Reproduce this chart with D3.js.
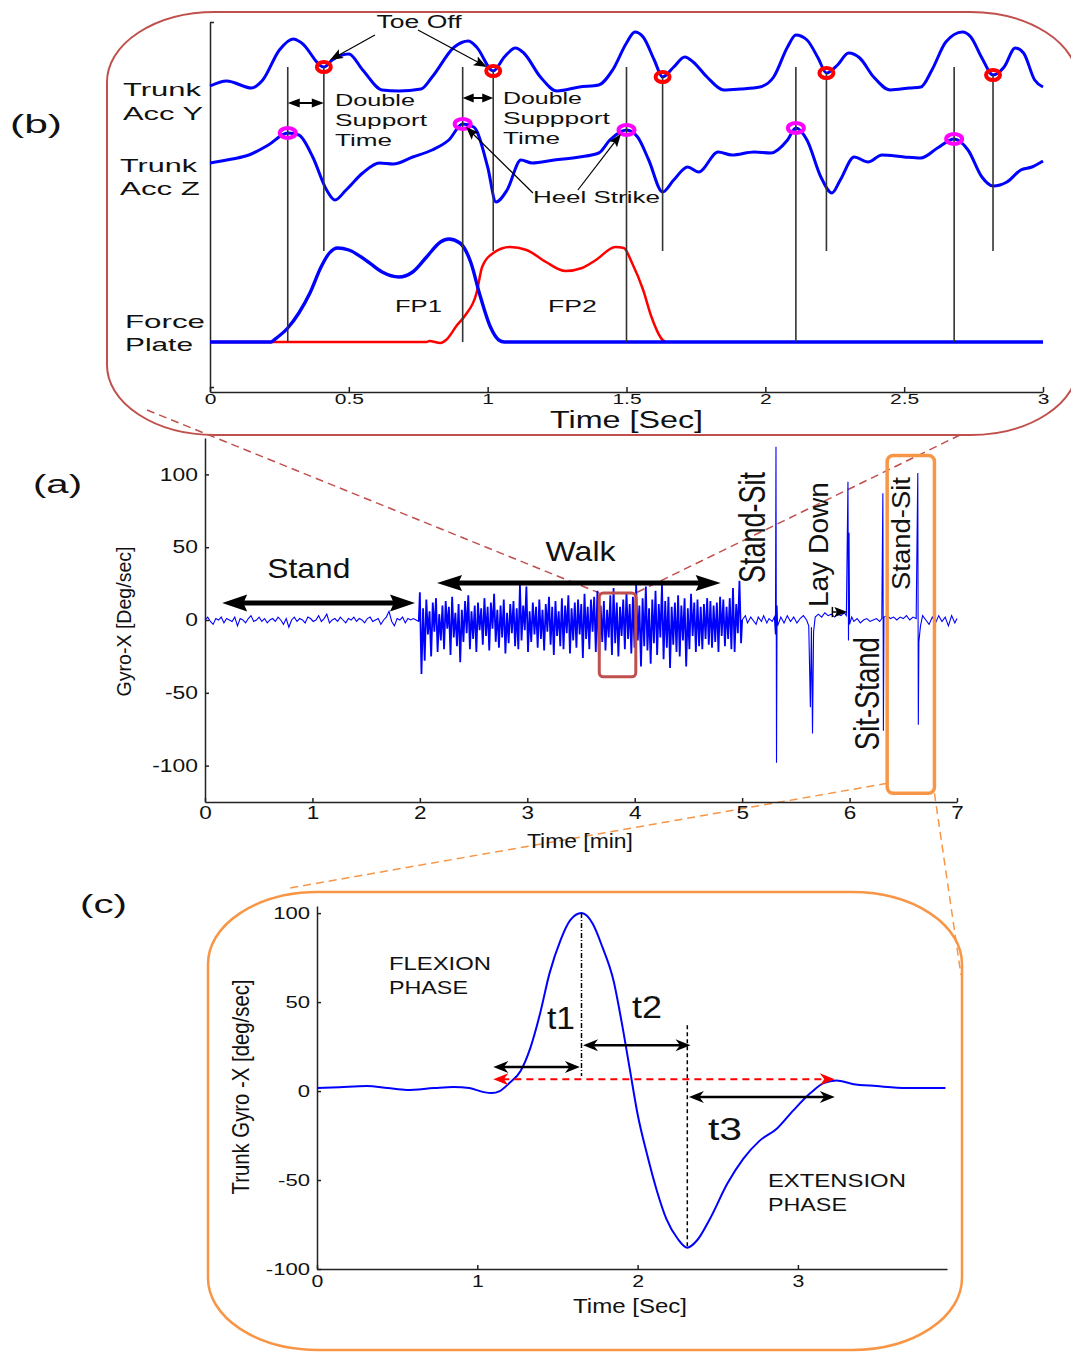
<!DOCTYPE html>
<html lang="en">
<head>
<meta charset="utf-8">
<script src="https://cdnjs.cloudflare.com/ajax/libs/d3/7.8.5/d3.min.js"></script>
<style>
  body { margin: 0; background: #fff; }
  svg { display: block; font-family: 'Liberation Sans', Arial, Helvetica, sans-serif; }
</style>
</head>
<body>
<svg id="fig" width="1071" height="1353"></svg>
<script>
// ---------- panel (b): gait, time [sec], traces in arbitrary units (offset per trace) ----------
const accYTime = [0,0.06,0.15,0.19,0.25,0.30,0.33,0.41,0.44,0.50,0.55,0.62,0.68,0.76,0.80,0.88,0.93,0.96,1.02,1.06,1.10,1.13,1.19,1.25,1.33,1.40,1.45,1.50,1.53,1.56,1.60,1.63,1.67,1.71,1.74,1.79,1.85,1.91,1.98,2.03,2.08,2.11,2.15,2.19,2.22,2.26,2.30,2.34,2.39,2.45,2.52,2.56,2.60,2.65,2.71,2.74,2.78,2.82,2.86,2.90,2.93,2.97,3.00]
const accYVal = [5.12,5.22,5.08,5.24,5.84,6.06,5.98,5.50,5.64,5.76,5.44,5.04,5.02,5.06,5.30,5.90,6.02,5.90,5.42,5.70,5.88,5.78,5.30,5.02,5.10,5.14,5.44,5.98,6.20,6.10,5.64,5.30,5.50,5.70,5.60,5.30,5.04,5.06,5.10,5.30,5.90,6.14,6.04,5.68,5.38,5.54,5.78,5.68,5.30,5.04,5.08,5.10,5.44,6.00,6.20,6.10,5.68,5.34,5.50,5.88,5.78,5.24,5.10]
const accZTime = [0,0.08,0.14,0.21,0.28,0.32,0.37,0.42,0.45,0.49,0.55,0.61,0.66,0.73,0.80,0.86,0.91,0.95,1.00,1.03,1.07,1.12,1.16,1.24,1.33,1.40,1.44,1.50,1.54,1.58,1.63,1.67,1.72,1.76,1.83,1.88,1.96,2.02,2.08,2.11,2.15,2.20,2.24,2.27,2.32,2.37,2.42,2.50,2.56,2.62,2.68,2.73,2.78,2.82,2.87,2.92,2.96,3.00]
const accZVal = [3.58,3.66,3.74,3.94,4.18,4.14,3.70,3.04,2.84,3.04,3.38,3.58,3.56,3.70,3.84,4.04,4.36,4.30,3.50,2.80,3.04,3.64,3.58,3.64,3.70,3.78,4.04,4.24,4.10,3.64,3.00,3.24,3.50,3.40,3.80,3.74,3.80,3.78,4.04,4.28,4.04,3.30,2.98,3.24,3.70,3.60,3.74,3.70,3.68,3.88,4.06,3.84,3.30,3.12,3.20,3.44,3.50,3.62]
const fp1Time = [0,0.22,0.23,0.28,0.32,0.36,0.40,0.43,0.46,0.50,0.57,0.62,0.68,0.73,0.78,0.83,0.86,0.90,0.94,0.97,1.01,1.04,1.06,3.00]
const fp1Val = [0,0,0.04,0.28,0.58,0.98,1.50,1.78,1.88,1.84,1.60,1.40,1.30,1.40,1.70,2.00,2.06,1.98,1.58,0.98,0.30,0.04,0,0]
const fp2Time = [0,0.78,0.79,0.83,0.85,0.89,0.92,0.96,0.98,1.02,1.08,1.14,1.21,1.28,1.34,1.39,1.46,1.49,1.52,1.56,1.59,1.63,1.64]
const fp2Val = [0,0,0.02,-0.02,0.04,0.34,0.54,0.98,1.50,1.78,1.90,1.84,1.60,1.42,1.48,1.64,1.90,1.88,1.58,1.04,0.50,0.04,0]
const toeOffTime = [0.41, 1.02, 1.63, 2.22, 2.82]
const toeOffVal = [5.50, 5.42, 5.30, 5.38, 5.34]
const heelTime = [0.28, 0.91, 1.50, 2.11, 2.68]
const heelVal = [4.18, 4.36, 4.24, 4.28, 4.06]
const gaitTicks = [0, 0.5, 1, 1.5, 2, 2.5, 3]

// ---------- panel (a): whole protocol, time [min], gyro-X [deg/sec] ----------
const standVal = [0,2,-1,-3,1,0,2,-2,1,0,-1,2,-4,1,0,-2,1,3,-1,0,2,-1,1,-2,0,1,-1,2,0,-3,1,-5,0,2,-1,1,0,-2,2,1,-1,0,3,-1,1,4,-2,0,1,-1,2,0,-2,1,0,2,-1,1,0,-2,1,2,-1,0,1,-3,0,2,6,-1,-4,1,0,2,-2,1,0,1,0,-1]
// walking, successive peaks 2.0 - 5.0 min
const walkVal = [
    19,-37,8,-28,14,-10,6,-25,12,-8,15,-22,4,-14,10,-20,13,-6,9,-24,
    16,-12,5,-18,11,-29,7,-15,13,-9,17,-20,6,-13,10,-22,12,-7,8,-17,
    15,-11,9,-21,12,-6,18,-15,7,-19,10,-12,14,-23,5,-16,11,-9,13,-18,
    8,-20,24,-14,10,-7,23,-22,6,-15,12,-10,9,-19,14,-13,7,-21,11,-8,
    16,-17,9,-24,13,-11,6,-18,15,-20,10,-9,17,-23,8,-14,12,-19,14,-10,
    11,-26,18,-13,9,-20,14,-8,16,-22,20,-28,10,-15,13,-21,7,-12,17,-24,
    22,-16,12,-25,9,-11,14,-20,19,-13,11,-23,16,-19,24,-14,10,-32,15,-18,
    23,-21,8,-30,14,-16,20,-24,11,-12,24,-27,13,-19,16,-33,9,-17,12,-22,
    17,-25,10,-14,15,-32,8,-20,18,-11,12,-22,14,-18,9,-20,11,-13,15,-17,
    13,-19,10,-15,12,-22,16,-11,14,-18,9,-13,15,-20,22,-22,11,-9,27,-16
]
const postTime = [5.00,5.03,5.05,5.08,5.10,5.13,5.15,5.18,5.20,5.23,5.25,5.28,5.30,5.31,5.315,5.32,5.325,5.33,5.36,5.39,5.42,5.45,5.48,5.51,5.54,5.57,5.60,5.62,5.635,5.645,5.655,5.665,5.68,5.71,5.74,5.77,5.80,5.83,5.86,5.89,5.92,5.95,5.97,5.985,5.99,5.995,6.00,6.02,6.04,6.07,6.10,6.13,6.16,6.19,6.22,6.25,6.28,6.30,6.31,6.315,6.32,6.35,6.38,6.41,6.44,6.47,6.50,6.53,6.56,6.59,6.62,6.635,6.64,6.645,6.66,6.68,6.71,6.74,6.77,6.80,6.83,6.86,6.89,6.92,6.95,6.98,7.00]
const postVal = [0,3,-2,2,0,-3,2,-1,3,-2,1,-1,2,-10,119,-98,10,-4,2,-2,3,-1,2,-2,1,3,0,-4,-60,-5,-78,-8,2,4,2,5,3,4,2,4,3,5,3,95,-14,60,-3,2,-1,1,-2,0,1,-1,0,1,-1,1,87,-76,2,3,1,2,0,2,1,3,0,2,1,101,-72,-15,-4,3,0,-3,2,-2,3,-1,2,-4,3,-2,1]
const minTicks = [0, 1, 2, 3, 4, 5, 6, 7]
const gyroTicks = [-100, -50, 0, 50, 100]

// ---------- panel (c): one stand-sit transition, time [sec], gyro-X [deg/sec] ----------
const sitTime = [0,0.14,0.31,0.44,0.56,0.73,0.85,0.95,1.04,1.09,1.14,1.20,1.27,1.33,1.39,1.45,1.52,1.58,1.65,1.72,1.78,1.85,1.90,1.95,2.00,2.06,2.12,2.18,2.25,2.31,2.37,2.45,2.56,2.66,2.76,2.87,2.97,3.08,3.16,3.24,3.34,3.49,3.68,3.92]
const sitVal = [1.7,2.2,2.8,1.7,0.6,1.7,2.3,1.7,-0.6,-1.1,0,4.5,11.3,24,43,66,85,96,100,94,81,62,39,13,-13,-36,-56,-72,-83,-88,-84,-72,-52,-38,-28,-21,-11,-1,4.5,6,4,2.8,1.7,1.7]
const secTicks = [0, 1, 2, 3]
const sitGyroTicks = [-100, -50, 0, 50, 100]

const zip = (a, b) => a.map((t, i) => [t, b[i]])
const INK = '#111'
const plain = d => String(d)   // hyphen minus, no trailing .0

const svg = d3.select('#fig')
svg.append('rect').attr('width', 1071).attr('height', 1353).attr('fill', '#fff')

function txt(g, s, x, y, size, w, anchor) {
    const t = g.append('text').attr('x', x).attr('y', y).attr('font-size', size)
        .attr('text-anchor', anchor || 'start').attr('fill', INK).text(s)
    if (w) t.attr('textLength', w).attr('lengthAdjust', 'spacingAndGlyphs')
    return t
}
function vtxt(g, s, x, y, size, len, sx, anchor) {
    return g.append('text')
        .attr('transform', `translate(${x},${y}) scale(${sx},1) rotate(-90)`)
        .attr('font-size', size).attr('text-anchor', anchor || 'start').attr('fill', INK)
        .attr('textLength', len).attr('lengthAdjust', 'spacingAndGlyphs').text(s)
}
function widen(sel, k) {
    sel.each(function () {
        const w = this.getComputedTextLength()
        d3.select(this).attr('textLength', w * k).attr('lengthAdjust', 'spacingAndGlyphs')
    })
}
function styleAxis(g, size, k) {
    g.attr('font-family', null).attr('font-size', size)
    g.select('.domain').attr('stroke', '#222').attr('stroke-width', 1.5)
    g.selectAll('.tick line').attr('stroke', '#222').attr('stroke-width', 1.5)
    g.selectAll('.tick text').attr('fill', INK)
    widen(g.selectAll('.tick text'), k)
}
// arrow with filled (optionally barbed) heads
function arrow(g, p1, p2, o) {
    const [x1, y1] = p1, [x2, y2] = p2
    const L = Math.hypot(x2 - x1, y2 - y1), ux = (x2 - x1) / L, uy = (y2 - y1) / L
    const color = o.color || '#000', cut = o.head * 0.6, notch = o.notch || 1
    const a = o.both ? [x1 + ux * cut, y1 + uy * cut] : [x1, y1]
    const b = [x2 - ux * cut, y2 - uy * cut]
    g.append('line').attr('x1', a[0]).attr('y1', a[1]).attr('x2', b[0]).attr('y2', b[1])
        .attr('stroke', color).attr('stroke-width', o.w).attr('stroke-dasharray', o.dash || null)
    const head = (tx, ty, dx, dy) => {
        const bx = tx - dx * o.head, by = ty - dy * o.head
        const nx = tx - dx * o.head * notch, ny = ty - dy * o.head * notch
        const pts = [[tx, ty], [bx - dy * o.hw, by + dx * o.hw], [nx, ny], [bx + dy * o.hw, by - dx * o.hw]]
        g.append('polygon').attr('points', pts.map(p => p.join(',')).join(' ')).attr('fill', color)
    }
    head(x2, y2, ux, uy)
    if (o.both) head(x1, y1, -ux, -uy)
}

// ================= scales =================
const xB = d3.scaleLinear().domain([0, 3]).range([210, 1043])
const yB = d3.scaleLinear().domain([-1, 6.4]).range([392, 22])
const xA = d3.scaleLinear().domain([0, 7]).range([205, 957])
const yA = d3.scaleLinear().domain([-125, 125]).range([802, 438])
const xC = d3.scaleLinear().domain([0, 3.93]).range([317, 947])
const yC = d3.scaleLinear().domain([-100, 104]).range([1269, 906])

// zoom windows marked in panel (a)
const walkWin = { t0: 3.67, t1: 4.01, v0: -39, v1: 18.6 }
const sitWin = { t0: 6.35, t1: 6.79, v0: -119, v1: 113 }

// ================= connectors =================
const gLink = svg.append('g').attr('fill', 'none').attr('stroke-width', 1.5).attr('stroke-dasharray', '8,5')
gLink.append('line').attr('x1', 147).attr('y1', 410).attr('x2', xA(walkWin.t0)).attr('y2', yA(walkWin.v1)).attr('stroke', '#c0504d')
gLink.append('line').attr('x1', 960).attr('y1', 435).attr('x2', xA(walkWin.t1)).attr('y2', yA(walkWin.v1)).attr('stroke', '#c0504d')
gLink.append('line').attr('x1', xA(sitWin.t0)).attr('y1', yA(sitWin.v0) - 10).attr('x2', 290).attr('y2', 888).attr('stroke', '#f79646')
gLink.append('line').attr('x1', xA(sitWin.t1)).attr('y1', yA(sitWin.v0)).attr('x2', 961).attr('y2', 975).attr('stroke', '#f79646')

// ================= panel (b) =================
const gB = svg.append('g')
gB.append('rect').attr('x', 107).attr('y', 12).attr('width', 971).attr('height', 423)
    .attr('rx', 108).attr('ry', 70).attr('fill', 'none').attr('stroke', '#c0504d').attr('stroke-width', 2)

const axB = gB.append('g').attr('transform', `translate(0,${yB(-1)})`)
    .call(d3.axisBottom(xB).tickValues(gaitTicks).tickFormat(plain).tickSizeInner(-5).tickSizeOuter(0).tickPadding(2))
styleAxis(axB, 14, 1.5)
const ayB = gB.append('g').attr('transform', `translate(${xB(0)},0)`)
    .call(d3.axisLeft(yB).tickValues([6.4, -0.9]).tickFormat(() => '').tickSizeInner(-4).tickSizeOuter(0))
styleAxis(ayB, 14, 1)

const lineB = d3.line().x(d => xB(d[0])).y(d => yB(d[1])).curve(d3.curveMonotoneX)
gB.append('path').attr('d', lineB(zip(fp2Time, fp2Val))).attr('fill', 'none').attr('stroke', '#ff0000').attr('stroke-width', 2.5)
gB.append('path').attr('d', lineB(zip(fp1Time, fp1Val))).attr('fill', 'none').attr('stroke', '#0000ff').attr('stroke-width', 3.4)
gB.append('path').attr('d', lineB(zip(accYTime, accYVal))).attr('fill', 'none').attr('stroke', '#0000ff').attr('stroke-width', 3)
gB.append('path').attr('d', lineB(zip(accZTime, accZVal))).attr('fill', 'none').attr('stroke', '#0000ff').attr('stroke-width', 3)

// event lines: heel strike down to the force plate, toe off down to the plate peaks
heelTime.forEach(t => gB.append('line').attr('x1', xB(t)).attr('x2', xB(t)).attr('y1', yB(5.5)).attr('y2', yB(0))
    .attr('stroke', '#333').attr('stroke-width', 1.6))
toeOffTime.forEach((t, i) => gB.append('line').attr('x1', xB(t)).attr('x2', xB(t)).attr('y1', yB(toeOffVal[i])).attr('y2', yB(1.82))
    .attr('stroke', '#333').attr('stroke-width', 1.6))

toeOffTime.forEach((t, i) => gB.append('ellipse').attr('cx', xB(t)).attr('cy', yB(toeOffVal[i])).attr('rx', 7).attr('ry', 5)
    .attr('fill', 'none').attr('stroke', '#ff0000').attr('stroke-width', 4))
heelTime.forEach((t, i) => gB.append('ellipse').attr('cx', xB(t)).attr('cy', yB(heelVal[i])).attr('rx', 8).attr('ry', 5)
    .attr('fill', 'none').attr('stroke', '#ff00ff').attr('stroke-width', 4))

// trace names
txt(gB, 'Trunk', 123, yB(4.92), 19, 78)
txt(gB, 'Acc Y', 123, yB(4.44), 19, 80)
txt(gB, 'Trunk', 120, yB(3.40), 19, 77)
txt(gB, 'Acc Z', 120, yB(2.94), 19, 80)
txt(gB, 'Force', 125, yB(0.28), 19, 80)
txt(gB, 'Plate', 125, yB(-0.18), 19, 68)
txt(gB, 'FP1', xB(0.666), yB(0.6), 17, 47)
txt(gB, 'FP2', xB(1.217), yB(0.6), 17, 49)
txt(gB, 'Time [Sec]', xB(1.5), 428, 23, 153, 'middle')
txt(gB, '(b)', 10, 133, 26, 52)

// annotations
txt(gB, 'Toe Off', xB(0.60), yB(6.28), 18, 85)
arrow(gB, [xB(0.594), yB(6.14)], [xB(0.432), yB(5.64)], { w: 1.2, head: 13, hw: 5, notch: 0.8 })
arrow(gB, [xB(0.749), yB(6.24)], [xB(0.997), yB(5.50)], { w: 1.2, head: 13, hw: 5, notch: 0.8 })
txt(gB, 'Double', xB(0.45), yB(4.72), 17, 80)
txt(gB, 'Support', xB(0.45), yB(4.32), 17, 92)
txt(gB, 'Time', xB(0.45), yB(3.92), 17, 57)
txt(gB, 'Double', xB(1.055), yB(4.76), 17, 79)
txt(gB, 'Suppport', xB(1.055), yB(4.36), 17, 107)
txt(gB, 'Time', xB(1.055), yB(3.96), 17, 57)
arrow(gB, [xB(heelTime[0]), yB(4.78)], [xB(toeOffTime[0]), yB(4.78)], { w: 2, head: 12, hw: 4.5, both: true })
arrow(gB, [xB(heelTime[1]), yB(4.88)], [xB(toeOffTime[1]), yB(4.88)], { w: 2, head: 11, hw: 4.5, both: true })
txt(gB, 'Heel Strike', xB(1.163), yB(2.78), 17, 127)
arrow(gB, [xB(1.163), yB(2.98)], [xB(0.922), yB(4.30)], { w: 1.2, head: 13, hw: 5, notch: 0.8 })
arrow(gB, [xB(1.325), yB(3.04)], [xB(1.48), yB(4.16)], { w: 1.2, head: 13, hw: 5, notch: 0.8 })

// ================= panel (a) =================
const gA = svg.append('g')
const axA = gA.append('g').attr('transform', `translate(0,${yA(-125)})`)
    .call(d3.axisBottom(xA).tickValues(minTicks).tickFormat(plain).tickSizeInner(-4).tickSizeOuter(0).tickPadding(4))
styleAxis(axA, 18, 1.25)
const ayA = gA.append('g').attr('transform', `translate(${xA(0)},0)`)
    .call(d3.axisLeft(yA).tickValues(gyroTicks).tickFormat(plain).tickSizeInner(-4).tickSizeOuter(0).tickPadding(7))
styleAxis(ayA, 18, 1.27)

const standT = d3.scaleLinear().domain([0, standVal.length - 1]).range([0, 1.99])
const walkT = d3.scaleLinear().domain([0, walkVal.length - 1]).range([2.0, 4.99])
const standPts = standVal.map((v, i) => [standT(i), v])
const walkPts = walkVal.map((v, i) => [walkT(i), v])
const postPts = zip(postTime, postVal)
const lineA = d3.line().x(d => xA(d[0])).y(d => yA(d[1]))
// quiet parts thin, the walking bout drawn a little heavier so it reads as a dense band
gA.append('path').attr('d', lineA(standPts)).attr('fill', 'none').attr('stroke', '#0000ff').attr('stroke-width', 1.1)
gA.append('path').attr('d', lineA([standPts[standPts.length - 1], ...walkPts, postPts[0]]))
    .attr('fill', 'none').attr('stroke', '#0000ff').attr('stroke-width', 1.8)
gA.append('path').attr('d', lineA(postPts)).attr('fill', 'none').attr('stroke', '#0000ff').attr('stroke-width', 1.1)

gA.append('rect').attr('x', xA(walkWin.t0)).attr('y', yA(walkWin.v1))
    .attr('width', xA(walkWin.t1) - xA(walkWin.t0)).attr('height', yA(walkWin.v0) - yA(walkWin.v1))
    .attr('rx', 4).attr('fill', 'none').attr('stroke', '#c0504d').attr('stroke-width', 3)
gA.append('rect').attr('x', xA(sitWin.t0)).attr('y', yA(sitWin.v1))
    .attr('width', xA(sitWin.t1) - xA(sitWin.t0)).attr('height', yA(sitWin.v0) - yA(sitWin.v1))
    .attr('rx', 6).attr('fill', 'none').attr('stroke', '#f79646').attr('stroke-width', 3.5)

txt(gA, 'Stand', xA(0.58), yA(29), 28, 83)
arrow(gA, [xA(0.16), yA(11.7)], [xA(1.955), yA(11.7)], { w: 5, head: 25, hw: 8.5, both: true, notch: 0.85 })
txt(gA, 'Walk', xA(3.17), yA(40.6), 28, 70)
arrow(gA, [xA(2.16), yA(25.4)], [xA(4.80), yA(25.4)], { w: 5, head: 25, hw: 8, both: true, notch: 0.85 })
vtxt(gA, 'Stand-Sit', xA(5.213), yA(25.4), 27, 111, 1.35)
vtxt(gA, 'Lay Down', xA(5.80), yA(8.9), 27, 125, 1.0)
gA.append('line').attr('x1', xA(5.84)).attr('x2', xA(5.84)).attr('y1', yA(9)).attr('y2', yA(2)).attr('stroke', '#000').attr('stroke-width', 1.5)
arrow(gA, [xA(5.84), yA(5.5)], [xA(5.98), yA(5.5)], { w: 1.5, head: 13, hw: 5, notch: 0.8 })
vtxt(gA, 'Sit-Stand', xA(6.274), yA(-89.4), 27, 113, 1.33)
vtxt(gA, 'Stand-Sit', xA(6.563), yA(20.6), 27, 113, 0.93)

txt(gA, 'Time [min]', xA(3.49), 848, 21, 106, 'middle')
vtxt(gA, 'Gyro-X [Deg/sec]', xA(0) - 74, yA(-1), 19, 150, 1.1, 'middle')
txt(gA, '(a)', 33, 493, 26, 49)

// ================= panel (c) =================
const gC = svg.append('g')
gC.append('rect').attr('x', 208).attr('y', 892).attr('width', 754).attr('height', 458)
    .attr('rx', 110).attr('ry', 72).attr('fill', 'none').attr('stroke', '#f79646').attr('stroke-width', 2.5)

const axC = gC.append('g').attr('transform', `translate(0,${yC(-100)})`)
    .call(d3.axisBottom(xC).tickValues(secTicks).tickFormat(plain).tickSizeInner(-4).tickSizeOuter(0).tickPadding(6))
styleAxis(axC, 17, 1.25)
const ayC = gC.append('g').attr('transform', `translate(${xC(0)},0)`)
    .call(d3.axisLeft(yC).tickValues(sitGyroTicks).tickFormat(plain).tickSizeInner(-4).tickSizeOuter(0).tickPadding(7))
styleAxis(ayC, 17, 1.3)

const lineC = d3.line().x(d => xC(d[0])).y(d => yC(d[1])).curve(d3.curveMonotoneX)
gC.append('path').attr('d', lineC(zip(sitTime, sitVal))).attr('fill', 'none').attr('stroke', '#0000ff').attr('stroke-width', 2)

// phase marks: onset, peak flexion, peak extension, end
const tOn = 1.10, tPeak = 1.65, tTrough = 2.31, tEnd = 3.23
gC.append('line').attr('x1', xC(tPeak)).attr('x2', xC(tPeak)).attr('y1', yC(100)).attr('y2', yC(8.5))
    .attr('stroke', '#000').attr('stroke-width', 1.5).attr('stroke-dasharray', '5,2,1,2')
gC.append('line').attr('x1', xC(tTrough)).attr('x2', xC(tTrough)).attr('y1', yC(37)).attr('y2', yC(-88))
    .attr('stroke', '#000').attr('stroke-width', 1.5).attr('stroke-dasharray', '4,3')
arrow(gC, [xC(tOn), yC(6.7)], [xC(tEnd), yC(6.7)], { w: 2, head: 15, hw: 6, both: true, notch: 0.7, color: '#ff0000', dash: '7,5' })
arrow(gC, [xC(tOn), yC(13.5)], [xC(tPeak - 0.01), yC(13.5)], { w: 2.5, head: 15, hw: 6, both: true, notch: 0.7 })
arrow(gC, [xC(tPeak + 0.01), yC(25.8)], [xC(tTrough + 0.02), yC(25.8)], { w: 2.5, head: 15, hw: 6, both: true, notch: 0.7 })
arrow(gC, [xC(tTrough + 0.01), yC(-3.4)], [xC(tEnd), yC(-3.4)], { w: 2.5, head: 15, hw: 6, both: true, notch: 0.7 })

txt(gC, 't1', xC(1.435), yC(34.9), 32, 28)
txt(gC, 't2', xC(1.965), yC(41.1), 32, 30)
txt(gC, 't3', xC(2.439), yC(-27.6), 32, 34)
txt(gC, 'FLEXION', xC(0.449), yC(68.2), 19, 102)
txt(gC, 'PHASE', xC(0.449), yC(54.6), 19, 79)
txt(gC, 'EXTENSION', xC(2.813), yC(-54.1), 19, 138)
txt(gC, 'PHASE', xC(2.813), yC(-67.6), 19, 79)

txt(gC, 'Time [Sec]', 630, 1313, 20, 114, 'middle')
vtxt(gC, 'Trunk Gyro -X [deg/sec]', 249, 1087, 20, 215, 1.2, 'middle')
txt(gC, '(c)', 80, 913, 26, 47)
</script>
</body>
</html>
